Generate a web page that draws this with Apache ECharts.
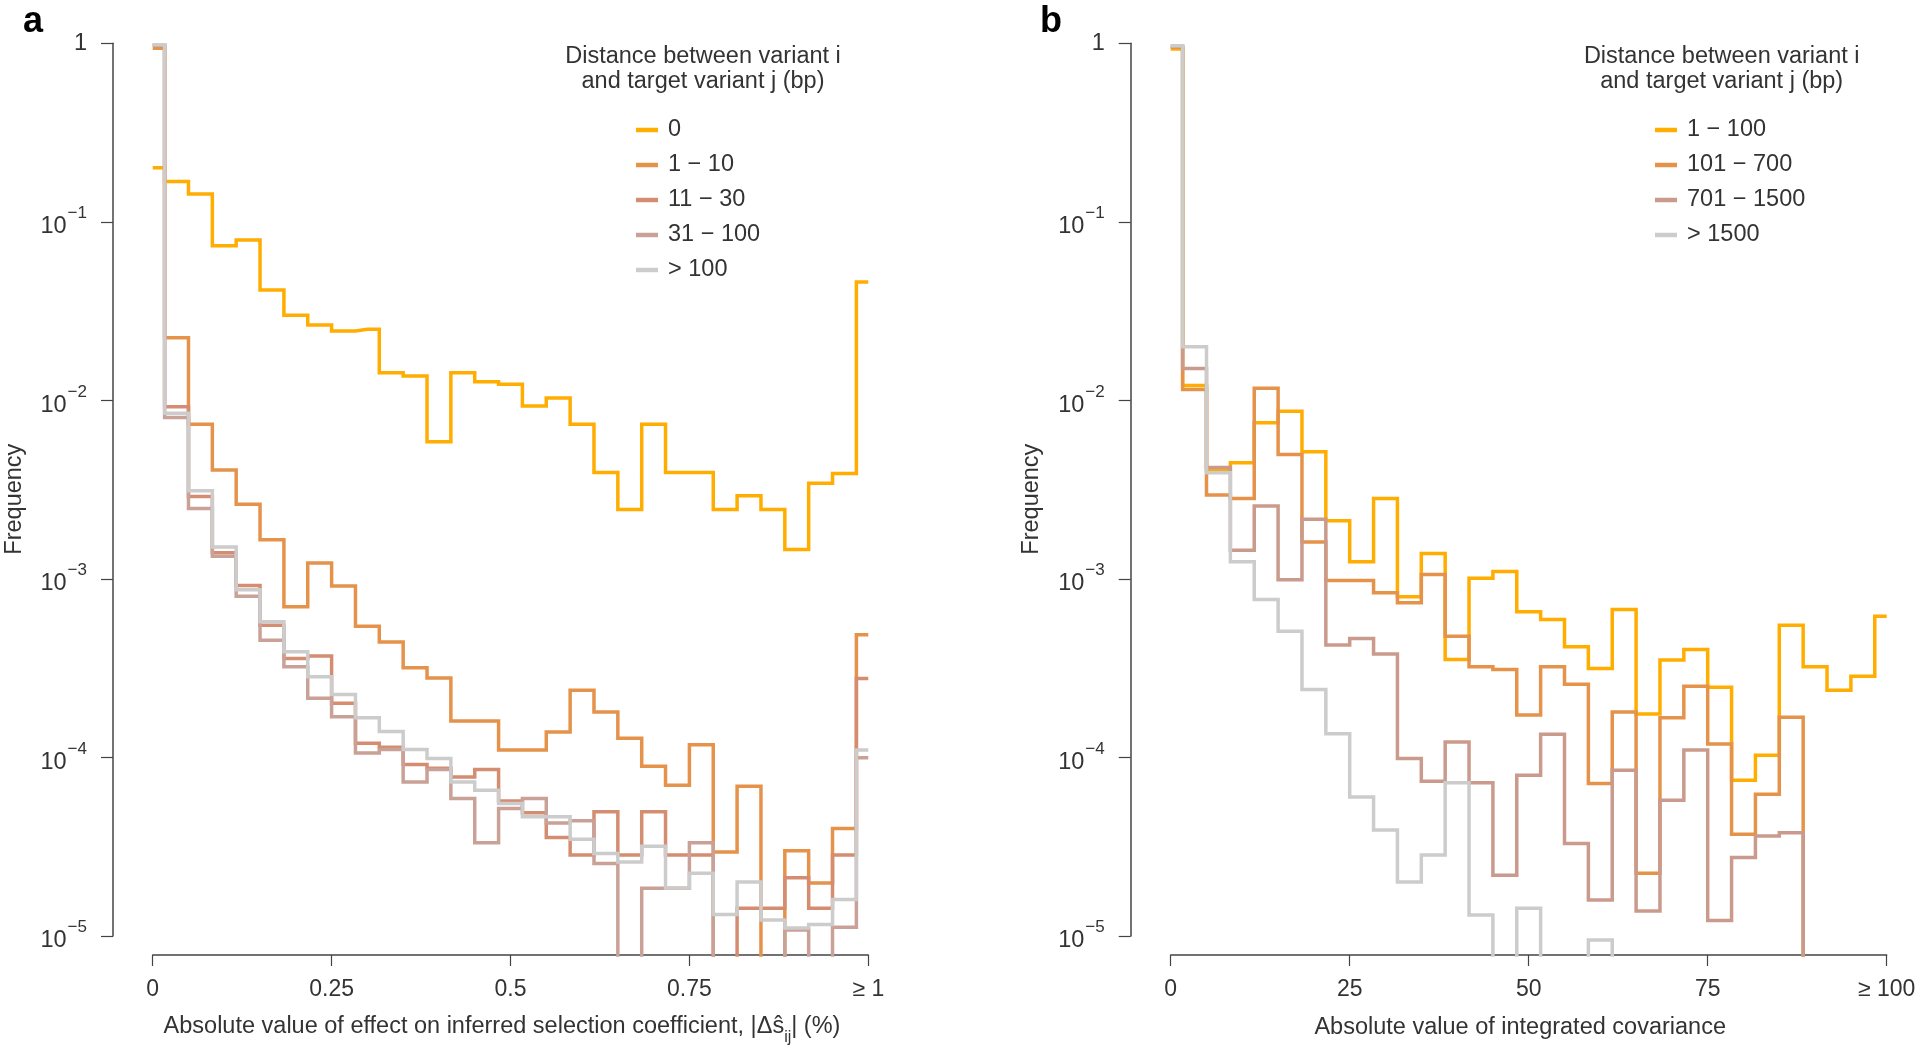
<!DOCTYPE html>
<html><head><meta charset="utf-8">
<script src="https://cdn.jsdelivr.net/npm/echarts@6/dist/echarts.min.js"></script>
<style>html,body{margin:0;padding:0;background:#fff}#chart{width:1920px;height:1051px}</style>
</head><body><div id="chart"></div>
<script>
// ---------- Data ----------
const binCentersA = [0, 0.0333, 0.0667, 0.1, 0.1333, 0.1667, 0.2, 0.2333, 0.2667, 0.3, 0.3333, 0.3667, 0.4, 0.4333, 0.4667, 0.5, 0.5333, 0.5667, 0.6, 0.6333, 0.6667, 0.7, 0.7333, 0.7667, 0.8, 0.8333, 0.8667, 0.9, 0.9333, 0.9667, 1];
const binCentersB = [0, 3.333, 6.667, 10, 13.333, 16.667, 20, 23.333, 26.667, 30, 33.333, 36.667, 40, 43.333, 46.667, 50, 53.333, 56.667, 60, 63.333, 66.667, 70, 73.333, 76.667, 80, 83.333, 86.667, 90, 93.333, 96.667, 100];

const namesA = ['0', '1 \u2212 10', '11 \u2212 30', '31 \u2212 100', '> 100'];
const namesB = ['1 \u2212 100', '101 \u2212 700', '701 \u2212 1500', '> 1500'];

const a_d0 = [0.201, 0.168, 0.143, 0.0735, 0.079, 0.0415, 0.030, 0.0264, 0.0245, 0.025, 0.0143, 0.0137, 0.00586, 0.0143, 0.0127, 0.0123, 0.0093, 0.0103, 0.00734, 0.00394, 0.00245, 0.00734, 0.00394, 0.00394, 0.00245, 0.00292, 0.00245, 0.00146, 0.00343, 0.0039, 0.046];
const a_d1_10 = [0.937, 0.0224, 0.00734, 0.00407, 0.00262, 0.00166, 0.000698, 0.00123, 0.000912, 0.000544, 0.000444, 0.000318, 0.000279, 0.00016, 0.00016, 0.00011, 0.00011, 0.000139, 0.000238, 0.00018, 0.000128, 0.0000893, 0.00007, 0.000118, 0.0000296, 0.000069, 0, 0.00003, 0.0000198, 0.00004, 0.000487];
const a_d11_30 = [0.975, 0.0092, 0.0029, 0.0014, 0.00092, 0.000551, 0.000358, 0.00037, 0.000201, 0.00012, 0.000114, 0.0000914, 0.000087, 0.0000778, 0.0000857, 0.0000571, 0.000049, 0.0000356, 0.0000284, 0.0000496, 0.0000284, 0.0000496, 0.0000284, 0.0000284, 0, 0.0000143, 0.0000143, 0.0000212, 0.0000143, 0.0000284, 0.000277];
const a_d31_100 = [0.978, 0.00803, 0.00248, 0.00134, 0.0008, 0.000454, 0.000322, 0.000215, 0.000169, 0.000106, 0.000111, 0.000073, 0.0000857, 0.0000589, 0.0000333, 0.0000518, 0.0000589, 0.000043, 0.0000442, 0.0000255, 0, 0.0000185, 0.0000185, 0.0000333, 0, 0, 0, 0.0000108, 0, 0.0000112, 0.0000995];
const a_dGt100 = [0.98, 0.00846, 0.00312, 0.00151, 0.00087, 0.000575, 0.000391, 0.000283, 0.000225, 0.000167, 0.00014, 0.000111, 0.0000987, 0.000073, 0.0000656, 0.0000552, 0.0000465, 0.0000465, 0.0000348, 0.000029, 0.000026, 0.0000318, 0.0000186, 0.0000225, 0.0000132, 0.0000201, 0.0000123, 0.0000111, 0.0000116, 0.000016, 0.00011];

const b_d1_100 = [0.93, 0.0121, 0.0041, 0.00447, 0.0075, 0.0087, 0.00515, 0.00212, 0.00125, 0.00282, 0.000794, 0.00139, 0.000354, 0.00101, 0.0011, 0.000654, 0.000593, 0.000417, 0.000315, 0.000675, 0.000175, 0.000351, 0.000403, 0.000247, 0.0000746, 0.000103, 0.000551, 0.000322, 0.000238, 0.000285, 0.000618];
const b_d101_700 = [0.95, 0.0115, 0.00295, 0.00282, 0.0117, 0.00498, 0.00161, 0.00098, 0.00098, 0.000836, 0.000735, 0.00106, 0.000478, 0.000322, 0.000311, 0.000173, 0.000322, 0.000257, 0.0000714, 0.00018, 0.0000225, 0.000167, 0.000251, 0.000119, 0.0000372, 0.0000623, 0.000168, 0, 0, 0, 0];
const b_d701_1500 = [0.96, 0.0151, 0.00421, 0.00145, 0.00256, 0.00099, 0.00216, 0.000426, 0.000464, 0.00038, 0.0000987, 0.0000736, 0.000122, 0.0000721, 0.0000219, 0.0000796, 0.000135, 0.000033, 0.0000159, 0.0000849, 0.0000138, 0.0000577, 0.00011, 0.0000122, 0.0000275, 0.0000363, 0.0000379, 0, 0, 0, 0];
const b_dGt1500 = [0.97, 0.02, 0.00393, 0.00125, 0.000767, 0.00051, 0.00024, 0.000136, 0.0000601, 0.0000392, 0.0000201, 0.0000284, 0.0000721, 0.0000131, 0, 0.0000143, 0, 0, 0.0000095, 0, 0, 0, 0, 0, 0, 0, 0, 0, 0, 0, 0];

const seriesA = [a_d0, a_d1_10, a_d11_30, a_d31_100, a_dGt100];
const seriesB = [b_d1_100, b_d101_700, b_d701_1500, b_dGt1500];

const xTicksA = {0: '0', 0.25: '0.25', 0.5: '0.5', 0.75: '0.75', 1: '\u2265 1'};
const xTicksB = {0: '0', 25: '25', 50: '50', 75: '75', 100: '\u2265 100'};

// ---------- Styling ----------
const colorsA = ['#FFAD00', '#E5924B', '#D48D70', '#C9A197', '#CCCCCC'];
const colorsB = ['#FFAD00', '#E5924B', '#CA9A8C', '#CCCCCC'];
const FONT = '"Liberation Sans", Arial, Helvetica, sans-serif';
const FS = 23.5;
const TXT = '#333';
const AX = '#444';
const LOG_FLOOR = 1e-9; // zero counts drop below the plotting region

const chart = echarts.init(document.getElementById('chart'), null, {renderer: 'canvas'});

function yLabel(v) {
  const e = Math.round(Math.log10(v));
  if (e === 0) return '{n|1}';
  return '{n|10}{e|\u2212' + (-e) + '}{h|\u200b}';
}
const yRich = {
  n: {fontSize: FS, fontFamily: FONT, color: TXT, lineHeight: 24, verticalAlign: 'bottom'},
  e: {fontSize: 17, fontFamily: FONT, color: TXT, lineHeight: 17, padding: [0, 0, 0, 1], verticalAlign: 'top'},
  h: {fontSize: 10, lineHeight: 34}
};

function panel(p) {
  const dataGrid = {left: p.left, top: 43.3, width: p.width, height: 911.7, outerBoundsMode: 'none', containLabel: false};
  const axisGrid = {left: p.axisX, top: 43.3, width: 10, height: 892.7, outerBoundsMode: 'none', containLabel: false};
  const xData = {
    gridIndex: p.gi, type: 'value', min: 0, max: p.xmax, interval: p.xmax / 4,
    axisLine: {show: true, lineStyle: {color: AX, width: 1.5}},
    axisTick: {show: true, length: 11, lineStyle: {color: AX, width: 1.2}},
    axisLabel: {margin: 23, fontSize: 23, fontFamily: FONT, color: TXT, formatter: v => p.ticks[v] ?? ''},
    splitLine: {show: false},
    name: p.name, nameLocation: 'middle', nameGap: p.xNameGap,
    nameTextStyle: {fontSize: FS, fontFamily: FONT, color: TXT, padding: [0, 17, 0, 0], rich: p.nameRich}
  };
  const yData = {
    gridIndex: p.gi, type: 'log', logBase: 10, min: 7.83e-6, max: 1,
    axisLine: {show: false}, axisTick: {show: false}, axisLabel: {show: false}, splitLine: {show: false},
    name: 'Frequency', nameLocation: 'middle', nameGap: p.yNameGap,
    nameTextStyle: {fontSize: FS, fontFamily: FONT, color: TXT}
  };
  const xAxisOnly = {gridIndex: p.gi + 1, type: 'value', min: 0, max: 1, show: false};
  const yAxisOnly = {
    gridIndex: p.gi + 1, type: 'log', logBase: 10, min: 1e-5, max: 1, splitNumber: 5,
    axisLine: {show: true, lineStyle: {color: AX, width: 1.5}},
    axisTick: {show: true, length: 12, lineStyle: {color: AX, width: 1.2}},
    axisLabel: {margin: 26, fontSize: FS, fontFamily: FONT, color: TXT, formatter: yLabel, rich: yRich},
    splitLine: {show: false}, minorTick: {show: false}
  };
  return {grids: [dataGrid, axisGrid], x: [xData, xAxisOnly], y: [yData, yAxisOnly]};
}

const pa = panel({gi: 0, left: 152.7, width: 715.6, axisX: 113, xmax: 1, ticks: xTicksA, yNameGap: 126, xNameGap: 60,
  name: '{t|Absolute value of effect on inferred selection coefficient, |\u0394\u015D}{sub|ij}{t|| (%)}{h|\u200b}',
  nameRich: {t: {fontSize: FS, fontFamily: FONT, color: TXT, lineHeight: 24, verticalAlign: 'top'},
             sub: {fontSize: 16, fontFamily: FONT, color: TXT, lineHeight: 16, verticalAlign: 'bottom'},
             h: {fontSize: 10, lineHeight: 31}}});
const pb = panel({gi: 2, left: 1170.7, width: 716, axisX: 1130.7, xmax: 100, ticks: xTicksB, yNameGap: 127, xNameGap: 61,
  name: 'Absolute value of integrated covariance', nameRich: {}});

function mkSeries(names, arrs, colors, xs, axisIdx) {
  return arrs.map((arr, i) => ({
    name: names[i], type: 'line', step: 'middle', xAxisIndex: axisIdx, yAxisIndex: axisIdx,
    showSymbol: false, symbol: 'none', clip: true, animation: false,
    lineStyle: {color: colors[i], width: 3.5, join: 'miter'},
    itemStyle: {color: colors[i]},
    data: arr.map((v, k) => [xs[k], v > 0 ? v : LOG_FLOOR])
  }));
}

const legendText = {fontSize: FS, fontFamily: FONT, color: TXT, lineHeight: 26, padding: [0, 0, 0, 5]};
const titleStyle = {font: FS + 'px ' + FONT, fill: TXT, align: 'center', verticalAlign: 'top', lineHeight: 25};

const option = {
  backgroundColor: '#fff',
  animation: false,
  grid: [...pa.grids, ...pb.grids],
  xAxis: [...pa.x, ...pb.x],
  yAxis: [...pa.y, ...pb.y],
  legend: [
    {orient: 'vertical', left: 636, top: 117, padding: 0, itemWidth: 22, itemHeight: 4.5, itemGap: 9, icon: 'rect',
     selectedMode: false, textStyle: legendText, data: namesA},
    {orient: 'vertical', left: 1655, top: 117, padding: 0, itemWidth: 22, itemHeight: 4.5, itemGap: 9, icon: 'rect',
     selectedMode: false, textStyle: legendText, data: namesB}
  ],
  graphic: [
    {type: 'text', left: 23, top: 4, style: {text: 'a', font: 'bold 36px ' + FONT, fill: '#000'}},
    {type: 'text', left: 1040, top: 4, style: {text: 'b', font: 'bold 36px ' + FONT, fill: '#000'}},
    {type: 'text', x: 703, y: 44.5, style: Object.assign({text: 'Distance between variant i\nand target variant j (bp)'}, titleStyle)},
    {type: 'text', x: 1721.7, y: 44.5, style: Object.assign({text: 'Distance between variant i\nand target variant j (bp)'}, titleStyle)}
  ],
  series: [
    ...mkSeries(namesA, seriesA, colorsA, binCentersA, 0),
    ...mkSeries(namesB, seriesB, colorsB, binCentersB, 2)
  ]
};
chart.setOption(option);
</script>
</body></html>
